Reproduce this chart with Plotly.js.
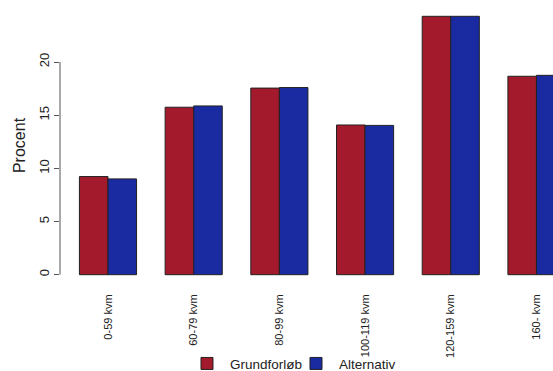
<!DOCTYPE html>
<html>
<head>
<meta charset="utf-8">
<script src="https://cdn.plot.ly/plotly-3.0.1.min.js"></script>
<style>html,body{margin:0;padding:0;background:#fff;}#chart{width:553px;height:371px;}</style>
</head>
<body>
<div id="chart"></div>
<script>
const categories = ["0-59 kvm", "60-79 kvm", "80-99 kvm", "100-119 kvm", "120-159 kvm", "160- kvm"];
const grundforlob = [9.23, 15.75, 17.55, 14.08, 24.3, 18.66];
const alternativ = [9.01, 15.87, 17.6, 14.04, 24.3, 18.75];
const seriesNames = ["Grundforløb", "Alternativ"];
const yTicks = [0, 5, 10, 15, 20];

const font = "Liberation Sans, Arial, sans-serif";
const idx = categories.map((c, i) => i);

const traces = [
  {type: "bar", name: seriesNames[0], x: idx, y: grundforlob,
   marker: {color: "#A21A2B", line: {color: "#222", width: 1}}},
  {type: "bar", name: seriesNames[1], x: idx, y: alternativ,
   marker: {color: "#1A2AA0", line: {color: "#222", width: 1}}}
];

const layout = {
  width: 553, height: 371,
  margin: {l: 60, r: 0, t: 6, b: 85.7, autoexpand: false},
  paper_bgcolor: "#fff", plot_bgcolor: "#fff",
  barmode: "group", bargap: 1/3, bargroupgap: 0,
  font: {family: font, color: "#222"},
  showlegend: true,
  legend: {orientation: "h", x: 0.2515, xanchor: "left", y: -0.282, yanchor: "middle",
           bgcolor: "rgba(0,0,0,0)",
           font: {family: font, size: 13.5, color: "#222"}, itemwidth: 36,
           entrywidthmode: "pixels", entrywidth: 58},
  xaxis: {range: [-0.56, 5.193], tickmode: "array", tickvals: idx, ticktext: categories,
          tickangle: -90, showline: false, showgrid: false, zeroline: false,
          ticks: "outside", ticklen: 4, tickcolor: "rgba(0,0,0,0)",
          automargin: false, tickfont: {family: font, size: 11, color: "#222"}},
  yaxis: {range: [-0.97, 25.27], tickmode: "array", tickvals: yTicks,
          ticktext: yTicks.map(String), tickangle: -90,
          showline: false, showgrid: false, zeroline: false,
          ticks: "outside", ticklen: 5, tickcolor: "#555", tickwidth: 1,
          automargin: false,
          tickfont: {family: font, size: 13, color: "#222"},
          title: {text: "Procent", font: {family: font, size: 16, color: "#222"}, standoff: 7}},
  shapes: [{type: "line", xref: "paper", yref: "y", x0: 0, x1: 0,
            y0: Math.min(...yTicks), y1: Math.max(...yTicks),
            line: {color: "#555", width: 1}}]
};

Plotly.newPlot("chart", traces, layout, {displayModeBar: false, staticPlot: true});
</script>
</body>
</html>
